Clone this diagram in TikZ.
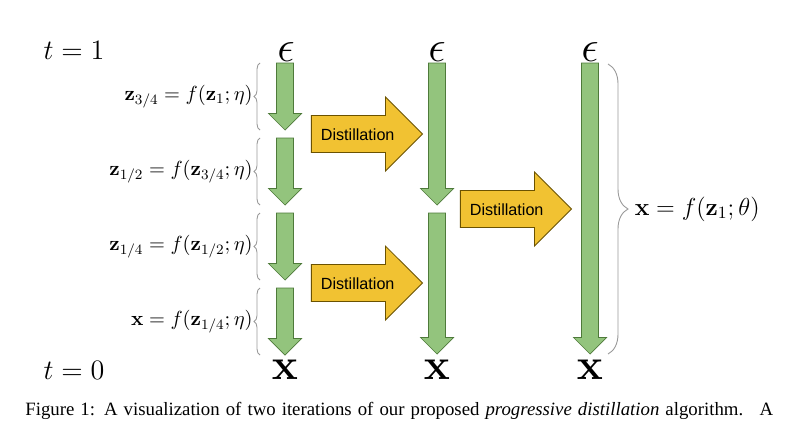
\RequirePackage{fix-cm}
\documentclass[tikz,border=0pt]{standalone}
\usepackage[no-math]{fontspec}
\newfontfamily\distfont{Liberation Sans}
\newfontfamily\capfont{Liberation Serif}
\usetikzlibrary{shapes.arrows,decorations.pathreplacing}

\definecolor{flowfill}{HTML}{93C47D}
\definecolor{flowline}{HTML}{4E7A3A}
\definecolor{distfill}{HTML}{F1C232}
\definecolor{distline}{HTML}{6B5200}

\tikzset{
  pics/flow/.style={code={
    \filldraw[fill=flowfill,draw=flowline,line width=0.4pt]
      (-8.5,0) -- (8.5,0) -- (8.5,#1-16.5) -- (16.5,#1-16.5) -- (0,#1)
      -- (-16.5,#1-16.5) -- (-8.5,#1-16.5) -- cycle;
    \coordinate (-top) at (0,0);
    \coordinate (-tip) at (0,#1);
    \coordinate (-bt) at (-25,0);
    \coordinate (-bb) at (-25,#1);
  }}
}

\begin{document}
\begin{tikzpicture}
[x=0.02cm,y=-0.02cm,
 distil/.style={single arrow,draw=distline,fill=distfill,line width=0.5pt,
   font=\distfont\fontsize{9.2}{11}\selectfont,minimum height=2.22cm,
   single arrow head extend=0.37cm,text height=7pt,text depth=0pt,inner ysep=6.75pt},
 ends/.style={inner sep=0pt,font=\fontsize{25}{30}\selectfont},
 tlab/.style={inner sep=0pt,font=\fontsize{16}{19}\selectfont},
 lbrace/.style={draw=gray!80,line width=0.5pt,decorate,decoration={brace,amplitude=0.12cm}},
 rbrace/.style={draw=gray!80,line width=0.5pt,decorate,decoration={brace,amplitude=0.4cm}},
 lab/.style={midway,left=3pt,inner sep=1pt,font=\fontsize{11.6}{14}\selectfont}]

\fill[white] (0,0) rectangle (800,423);
\useasboundingbox (0,0) rectangle (800,423);

\node (t1) at (74,50) [tlab] {$t=1$};
\node (t0) at (74,370) [tlab] {$t=0$};

% first column: four steps of the teacher
\node (e1) at (286,52) [ends] {$\epsilon$};
\pic (g1) at (285,63) {flow=67};
\pic (g2) at (285,138) {flow=67};
\pic (g3) at (285,213) {flow=67};
\pic (g4) at (285,288) {flow=67};
\node (x1) at (285,370) [ends] {$\mathbf{x}$};

\draw[lbrace] (g1-bb) -- (g1-bt) node[lab] {$\mathbf{z}_{3/4} = f(\mathbf{z}_1;\eta)$};
\draw[lbrace] (g2-bb) -- (g2-bt) node[lab] {$\mathbf{z}_{1/2} = f(\mathbf{z}_{3/4};\eta)$};
\draw[lbrace] (g3-bb) -- (g3-bt) node[lab] {$\mathbf{z}_{1/4} = f(\mathbf{z}_{1/2};\eta)$};
\draw[lbrace] (g4-bb) -- (g4-bt) node[lab] {$\mathbf{x} = f(\mathbf{z}_{1/4};\eta)$};

\node (d1) at (423,134) [distil,anchor=tip] {Distillation};
\node (d2) at (423,283) [distil,anchor=tip] {Distillation};

% second column: two steps
\node (e2) at (437,52) [ends] {$\epsilon$};
\pic (g5) at (437,63) {flow=142};
\pic (g6) at (437,213) {flow=141};
\node (x2) at (437,370) [ends] {$\mathbf{x}$};

\node (d3) at (572,209) [distil,anchor=tip] {Distillation};

% third column: one step
\node (e3) at (590,52) [ends] {$\epsilon$};
\pic (g7) at (590,63) {flow=291};
\node (x3) at (590,370) [ends] {$\mathbf{x}$};

\coordinate (rtop) at (608,64);
\coordinate (rbot) at (608,354);
\draw[rbrace] (rtop) -- (rbot) node[midway,right=14pt,inner sep=1pt,font=\fontsize{14}{17}\selectfont] {$\mathbf{x} = f(\mathbf{z}_1;\theta)$};

\node (cap) at (25,415) [anchor=base west,inner sep=0pt,font=\capfont\fontsize{10.7}{13}\selectfont]
  {\makebox[14.96cm][s]{Figure 1: A visualization of two iterations of our proposed \textit{progressive distillation} algorithm. \ A}};
\end{tikzpicture}
\end{document}
